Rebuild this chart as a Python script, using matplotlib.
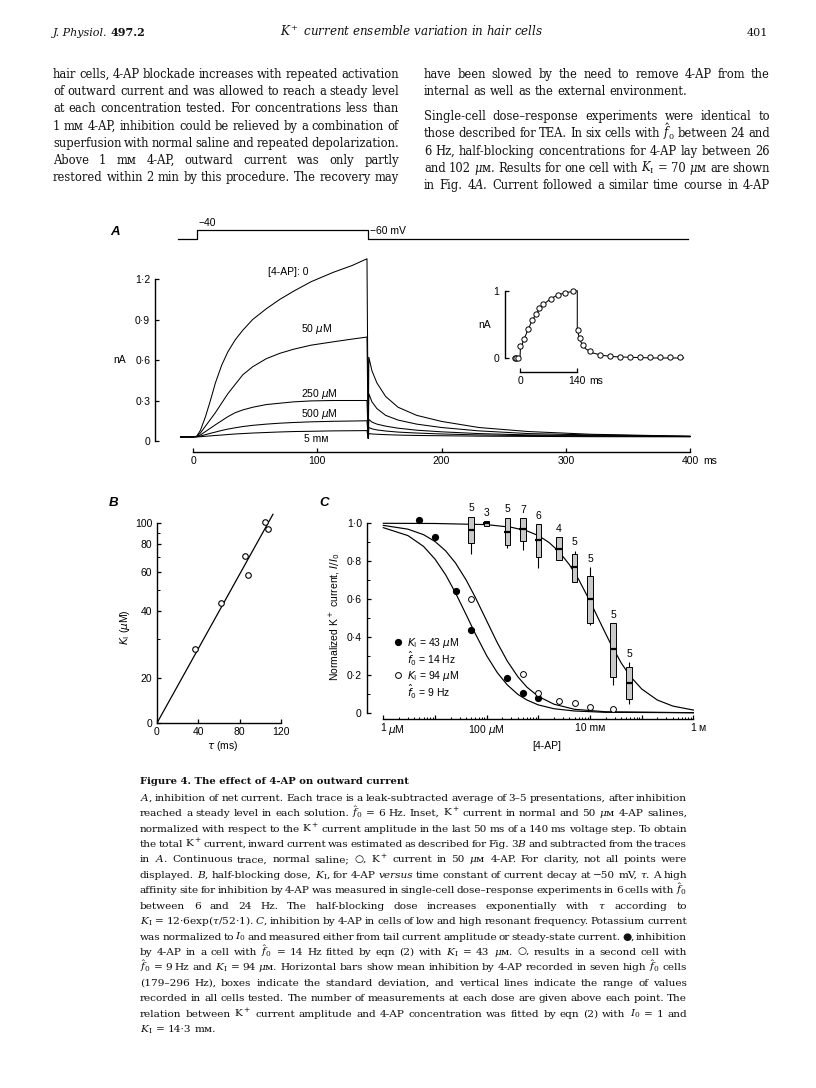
#!/usr/bin/env python
import matplotlib
matplotlib.use('Agg')
import matplotlib.pyplot as plt
from matplotlib.lines import Line2D
from matplotlib.patches import Rectangle
from matplotlib.ticker import FixedLocator, NullFormatter

# ---------------- A: K+ current (nA), step -60 -> -40 mV
a_names = ['[4-AP]: 0', r'50 $\mu$M', r'250 $\mu$M', r'500 $\mu$M', '5 mᴍ']
t_on = [-10, 0, 3, 6, 10, 14, 18, 23, 28, 34, 40, 48, 59, 70, 81, 95, 113, 128, 140]
a_on = [
    [0.03, 0.03, 0.035, 0.08, 0.18, 0.30, 0.43, 0.56, 0.66, 0.75, 0.82, 0.90, 0.98, 1.05, 1.11, 1.18, 1.25, 1.30, 1.35],
    [0.03, 0.03, 0.035, 0.06, 0.11, 0.16, 0.21, 0.28, 0.35, 0.42, 0.49, 0.55, 0.61, 0.65, 0.68, 0.71, 0.735, 0.755, 0.77],
    [0.03, 0.03, 0.033, 0.045, 0.07, 0.095, 0.12, 0.15, 0.18, 0.21, 0.23, 0.25, 0.27, 0.28, 0.29, 0.297, 0.30, 0.30, 0.30],
    [0.03, 0.03, 0.032, 0.037, 0.047, 0.057, 0.066, 0.078, 0.088, 0.098, 0.107, 0.116, 0.125, 0.132, 0.137, 0.142, 0.146, 0.148, 0.15],
    [0.03, 0.03, 0.03, 0.032, 0.035, 0.038, 0.041, 0.044, 0.048, 0.052, 0.055, 0.059, 0.063, 0.067, 0.07, 0.072, 0.075, 0.076, 0.077],
]
t_step_off, i_step_off = 141, 0.02
t_tail = [141.5, 144, 148, 155, 165, 180, 200, 230, 270, 320, 400]
a_tail = [
    [0.62, 0.52, 0.43, 0.33, 0.25, 0.19, 0.145, 0.10, 0.07, 0.05, 0.035],
    [0.35, 0.29, 0.24, 0.19, 0.155, 0.125, 0.10, 0.075, 0.055, 0.045, 0.035],
    [0.16, 0.14, 0.125, 0.11, 0.095, 0.08, 0.068, 0.055, 0.045, 0.04, 0.034],
    [0.10, 0.09, 0.082, 0.074, 0.066, 0.059, 0.052, 0.045, 0.04, 0.036, 0.033],
    [0.055, 0.052, 0.05, 0.047, 0.044, 0.041, 0.039, 0.036, 0.034, 0.032, 0.031],
]
prot_t = [-12, 3, 3, 141, 141, 398]
prot_mv = [-60, -60, -40, -40, -60, -60]
a_xticks = [0, 100, 200, 300, 400]
a_yticks = [0, 0.3, 0.6, 0.9, 1.2]
a_ylabels = ['0', '0·3', '0·6', '0·9', '1·2']

# inset: normalized current, normal saline (line) and 50 uM 4-AP (circles)
ins_t = [-17, 0, 1, 5, 10, 20, 30, 40, 50, 60, 75, 90, 110, 130, 140, 140, 142, 146, 152, 160, 175, 200, 230, 270, 330, 400]
ins_i = [0, 0, 0.15, 0.2, 0.28, 0.43, 0.56, 0.66, 0.74, 0.81, 0.88, 0.93, 0.97, 0.99, 1.0, 0.42, 0.37, 0.28, 0.2, 0.14, 0.08, 0.04, 0.02, 0.01, 0.0, 0.0]
ins_ct = [-12, -9, -6, 0, 10, 19, 29, 38, 47, 57, 75, 93, 111, 129, 142, 146, 154, 172, 196, 221, 245, 269, 293, 318, 342, 367, 391]
ins_ci = [0, 0, 0, 0.18, 0.28, 0.43, 0.56, 0.65, 0.74, 0.81, 0.87, 0.93, 0.97, 0.99, 0.41, 0.29, 0.19, 0.11, 0.05, 0.03, 0.02, 0.015, 0.01, 0.01, 0.01, 0.01, 0.01]

# ---------------- B: K_I (uM) vs tau (ms)
b_tau = [36.3, 61.8, 85.3, 87.9, 104.0, 107.2]
b_k = [27.2, 43.4, 70.7, 58.1, 101.0, 93.5]
b_fit_tau = [0, 112]
b_fit_k = [12.6, 109]

# ---------------- C: normalized K+ current vs [4-AP] (M)
c_low_conc = [5e-6, 10e-6, 25e-6, 50e-6, 250e-6, 500e-6, 1e-3]
c_low_i = [1.015, 0.93, 0.64, 0.437, 0.182, 0.102, 0.076]
c_mid_conc = [50e-6, 500e-6, 1e-3, 2.5e-3, 5e-3, 10e-3, 28e-3]
c_mid_i = [0.60, 0.204, 0.102, 0.062, 0.05, 0.032, 0.021]
box_conc = [50e-6, 100e-6, 250e-6, 500e-6, 1e-3, 2.5e-3, 5e-3, 10e-3, 28e-3, 57e-3]
box_mean = [0.965, 1.0, 0.956, 0.968, 0.912, 0.864, 0.768, 0.599, 0.335, 0.158]
box_hi = [1.035, 1.01, 1.03, 1.026, 0.996, 0.926, 0.838, 0.722, 0.472, 0.24]
box_lo = [0.894, 0.985, 0.886, 0.908, 0.824, 0.806, 0.692, 0.472, 0.187, 0.072]
rng_hi = [1.035, 1.01, 1.03, 1.026, 0.996, 0.926, 0.855, 0.768, 0.472, 0.266]
rng_lo = [0.84, 0.985, 0.868, 0.859, 0.762, 0.806, 0.692, 0.465, 0.146, 0.046]
box_n = [5, 3, 5, 7, 6, 4, 5, 5, 5, 5]
fit_conc = [1e-6, 3e-6, 6e-6, 1e-5, 1.6e-5, 2.5e-5, 4e-5, 6e-5, 1e-4, 1.6e-4, 2.5e-4, 4e-4, 6e-4, 1e-3, 2e-3, 5e-3, 2e-2, 1.0]
fit_43 = [0.977, 0.935, 0.878, 0.811, 0.729, 0.632, 0.518, 0.418, 0.301, 0.212, 0.147, 0.097, 0.067, 0.041, 0.021, 0.009, 0.002, 0.0]
fit_94 = [0.989, 0.969, 0.940, 0.904, 0.855, 0.790, 0.701, 0.610, 0.485, 0.370, 0.273, 0.190, 0.135, 0.086, 0.045, 0.018, 0.005, 0.0]
fit_hi_conc = [1e-6, 1e-5, 1e-4, 3e-4, 6e-4, 1e-3, 1.6e-3, 2.5e-3, 4e-3, 6e-3, 1e-2, 1.6e-2, 2.5e-2, 4e-2, 6e-2, 1e-1, 2e-1, 4e-1, 1.0]
fit_hi = [1.0, 0.999, 0.993, 0.979, 0.960, 0.935, 0.899, 0.851, 0.781, 0.704, 0.588, 0.472, 0.364, 0.263, 0.192, 0.125, 0.067, 0.035, 0.014]
c_leg = [r'$K_\mathrm{I}$ = 43 $\mu$M', r'$\hat{f}_0$ = 14 Hz', r'$K_\mathrm{I}$ = 94 $\mu$M', r'$\hat{f}_0$ = 9 Hz']
c_xmajor = [1e-6, 1e-5, 1e-4, 1e-3, 1e-2, 1e-1, 1.0]
c_xlabels = ['1', '', r'100 $\mu$M', '', '10 mᴍ', '', '1']

# ---------------- page text
head_left = ('J. Physiol.', '497.2')
head_mid = r'K$^+$ current ensemble variation in hair cells'
head_page = '401'
body_left = [
    "hair cells, 4-AP blockade increases with repeated activation",
    "of outward current and was allowed to reach a steady level",
    "at each concentration tested. For concentrations less than",
    "1 mᴍ 4-AP, inhibition could be relieved by a combination of",
    "superfusion with normal saline and repeated depolarization.",
    "Above 1 mᴍ 4-AP, outward current was only partly",
    "restored within 2 min by this procedure. The recovery may",
]
body_right1 = [
    "have been slowed by the need to remove 4-AP from the",
    "internal as well as the external environment.",
]
body_right2 = [
    "Single-cell dose–response experiments were identical to",
    r"those described for TEA. In six cells with $\hat{f}_0$ between 24 and",
    "6 Hz, half-blocking concentrations for 4-AP lay between 26",
    r"and 102 $\mu$ᴍ. Results for one cell with $K_\mathrm{I}$ = 70 $\mu$ᴍ are shown",
    r"in Fig. 4$A$. Current followed a similar time course in 4-AP",
]
cap_title = "Figure 4. The effect of 4-AP on outward current"
caption = [
    r"$A$, inhibition of net current. Each trace is a leak-subtracted average of 3–5 presentations, after inhibition",
    r"reached a steady level in each solution. $\hat{f}_0$ = 6 Hz. Inset, K$^+$ current in normal and 50 $\mu$ᴍ 4-AP salines,",
    r"normalized with respect to the K$^+$ current amplitude in the last 50 ms of a 140 ms voltage step. To obtain",
    r"the total K$^+$ current, inward current was estimated as described for Fig. 3$B$ and subtracted from the traces",
    r"in $A$. Continuous trace, normal saline; ○, K$^+$ current in 50 $\mu$ᴍ 4-AP. For clarity, not all points were",
    r"displayed. $B$, half-blocking dose, $K_\mathrm{I}$, for 4-AP ~versus time constant of current decay at −50 mV, $\tau$. A high",
    r"affinity site for inhibition by 4-AP was measured in single-cell dose–response experiments in 6 cells with $\hat{f}_0$",
    r"between 6 and 24 Hz. The half-blocking dose increases exponentially with $\tau$ according to",
    r"$K_\mathrm{I}$ = 12·6exp($\tau$/52·1). $C$, inhibition by 4-AP in cells of low and high resonant frequency. Potassium current",
    r"was normalized to $I_0$ and measured either from tail current amplitude or steady-state current. ●, inhibition",
    r"by 4-AP in a cell with $\hat{f}_0$ = 14 Hz fitted by eqn (2) with $K_\mathrm{I}$ = 43 $\mu$ᴍ. ○, results in a second cell with",
    r"$\hat{f}_0$ = 9 Hz and $K_\mathrm{I}$ = 94 $\mu$ᴍ. Horizontal bars show mean inhibition by 4-AP recorded in seven high $\hat{f}_0$ cells",
    r"(179–296 Hz), boxes indicate the standard deviation, and vertical lines indicate the range of values",
    r"recorded in all cells tested. The number of measurements at each dose are given above each point. The",
    r"relation between K$^+$ current amplitude and 4-AP concentration was fitted by eqn (2) with $I_0$ = 1 and",
    r"$K_\mathrm{I}$ = 14·3 mᴍ.",
]

# ---------------- style
plt.rcParams.update({
    'font.family': ['Liberation Sans', 'DejaVu Sans'], 'font.size': 7.5,
    'axes.linewidth': 1.0,
    'xtick.direction': 'in', 'ytick.direction': 'in',
    'xtick.major.size': 3, 'ytick.major.size': 3,
    'xtick.minor.size': 1.8, 'ytick.minor.size': 2.2,
    'xtick.major.width': 0.9, 'ytick.major.width': 0.9,
    'xtick.minor.width': 0.7, 'ytick.minor.width': 0.7,
    'xtick.major.pad': 3, 'ytick.major.pad': 3.5,
})
SERIF = dict(family=['DejaVu Serif', 'DejaVu Sans'], math_fontfamily='dejavuserif', color='#111111')
SPACE = 0.32  # word space, em

W, H = 816, 1088
fig = plt.figure(figsize=(W / 100, H / 100), dpi=100)
fig.patch.set_facecolor('white')
R = fig.canvas.get_renderer()


def px_axes(x0, y0, x1, y1):
    ax = fig.add_axes([x0 / W, 1 - y1 / H, (x1 - x0) / W, (y1 - y0) / H])
    ax.patch.set_alpha(0)
    for s in ('top', 'right'):
        ax.spines[s].set_visible(False)
    return ax


def px_text(x, y, s, **kw):
    return fig.text(x / W, 1 - y / H, s, **kw)


def width(t):
    return t.get_window_extent(R).width


def fit_run(s, x0, x1, yc, **kw):
    t = px_text(x0, 0, s, fontsize=10, va='baseline', **kw)
    size = 10 * (x1 - x0) / width(t)
    t.set_fontsize(size)
    t.set_y(1 - (yc + 0.26 * size * 100 / 72) / H)
    return t, size


def mean_size(lines, target, **kw):
    # font size at which a typical justified line fills the measure with plain word spaces
    t = px_text(0, 0, '', fontsize=10, **kw)
    tot = []
    for s in lines:
        words = s.split()
        w = 0
        for wd in words:
            t.set_text(wd.lstrip('~'))
            w += width(t)
        tot.append(w + (len(words) - 1) * SPACE * 10 * 100 / 72)
    t.remove()
    return 10 * target / (sum(tot) / len(tot))


def paragraph(lines, x0, x1, yc0, dy, size, ragged_last=True, **kw):
    px = size * 100 / 72
    for k, line in enumerate(lines):
        yb = yc0 + k * dy + 0.26 * px
        objs, ws = [], []
        for w in line.split():
            st = 'normal'
            if w.startswith('~'):
                w, st = w[1:], 'italic'
            o = px_text(x0, yb, w, fontsize=size, va='baseline', style=st, **kw)
            objs.append(o)
            ws.append(width(o))
        if (ragged_last and k == len(lines) - 1) or len(objs) < 2:
            gap = SPACE * px
        else:
            gap = (x1 - x0 - sum(ws)) / (len(objs) - 1)
        x = x0
        for o, w in zip(objs, ws):
            o.set_x(x / W)
            x += w + gap


def unit(ax, x, s, dx):
    ax.annotate(s, xy=(x, 0), xycoords=('data', 'axes fraction'), xytext=(dx, -3),
                textcoords='offset points', ha='left', va='top')


# ---------------- header and body text
t_j, hsize = fit_run(head_left[0], 53, 108, 33, style='italic', **SERIF)
px_text(111, 33 + 0.26 * hsize * 100 / 72, head_left[1], fontsize=hsize, weight='bold',
        va='baseline', **SERIF)
fit_run(head_mid, 280, 543, 33, style='italic', **SERIF)
px_text(768, 33 + 0.26 * hsize * 100 / 72, head_page, fontsize=hsize, ha='right',
        va='baseline', **SERIF)

just = [s for s in body_left if not s.startswith('Above')] + body_right1[:1] + body_right2
bsize = mean_size(just, 346, **SERIF)
paragraph(body_left, 53, 399, 75, 17.2, bsize, ragged_last=False, **SERIF)
paragraph(body_right1, 424, 770, 75, 17.2, bsize, **SERIF)
paragraph(body_right2, 424, 770, 117.3, 17.1, bsize, ragged_last=False, **SERIF)

# ---------------- panel A
axA = px_axes(155, 245, 700, 452)
axA.set_xlim(-30.6, 408)
axA.set_ylim(-0.0815, 1.452)
for on, tail in zip(a_on, a_tail):
    axA.plot(t_on + [t_step_off] + t_tail, on + [i_step_off] + tail, color='k', lw=0.75)
axA.spines['left'].set_bounds(0, 1.2)
axA.spines['bottom'].set_bounds(0, 400)
axA.set_xticks(a_xticks, [str(v) for v in a_xticks])
axA.set_yticks(a_yticks, a_ylabels)
unit(axA, 400, 'ms', 9.4)
axA.text(-59, 0.6, 'nA', ha='center', va='center', clip_on=False)
for name, (tx, iy) in zip(a_names, [(77, 1.252), (99.6, 0.83), (102, 0.346), (102, 0.198), (99, 0.015)]):
    axA.text(tx, iy, name, ha='center', va='center')

axV = px_axes(155, 218, 700, 245)
axV.set_xlim(axA.get_xlim())
axV.set_ylim(-73.3, -13.3)
axV.axis('off')
axV.plot(prot_t, prot_mv, color='k', lw=0.9)
axV.annotate('−40', xy=(prot_t[2], prot_mv[2]), xytext=(1, 1.5), textcoords='offset points',
             ha='left', va='bottom')
axV.annotate('−60 mV', xy=(prot_t[4], prot_mv[4]), xytext=(1.5, 2), textcoords='offset points',
             ha='left', va='bottom')

axI = px_axes(505, 285, 690, 372)
axI.set_xlim(-36.7, 415.6)
axI.set_ylim(-0.208, 1.085)
axI.plot(ins_t, ins_i, color='k', lw=0.75)
axI.plot(ins_ct, ins_ci, 'o', ms=3.8, mfc='white', mec='k', mew=0.7)
axI.spines['left'].set_bounds(0, 1)
axI.spines['bottom'].set_bounds(0, 140)
axI.set_xticks([0, 140], ['0', '140'])
axI.set_yticks([0, 1], ['0', '1'])
axI.tick_params(axis='y', pad=4)
unit(axI, 140, 'ms', 9)
axI.text(-86, 0.49, 'nA', ha='center', va='center', clip_on=False)

# ---------------- panel B
axB = px_axes(157, 505, 289.5, 723)
axB.set_yscale('log')
axB.set_xlim(0, 128)
axB.set_ylim(12.6, 120)
axB.plot(b_fit_tau, b_fit_k, color='k', lw=0.9)
axB.plot(b_tau, b_k, 'o', ms=4, mfc='white', mec='k', mew=0.8)
axB.spines['left'].set_bounds(12.6, 100)
axB.spines['bottom'].set_bounds(0, 120)
axB.set_yticks([12.6, 20, 40, 60, 80, 100], ['0', '20', '40', '60', '80', '100'])
axB.yaxis.set_minor_locator(FixedLocator([30, 50, 70, 90]))
axB.yaxis.set_minor_formatter(NullFormatter())
axB.set_xticks([0, 40, 80, 120], ['0', '40', '80', '120'])
px_text(125, 627, r'$K_\mathrm{I}$ ($\mu$M)', rotation=90, ha='center', va='center')
px_text(223, 746, r'$\tau$ (ms)', ha='center', va='center')

# ---------------- panel C
axC = px_axes(366.7, 505, 700, 719.3)
axC.set_xscale('log')
axC.set_xlim(4.77e-7, 1.34)
axC.set_ylim(-0.0348, 1.0966)
axC.plot(fit_conc, fit_43, color='k', lw=0.85)
axC.plot(fit_conc, fit_94, color='k', lw=0.85)
axC.plot(fit_hi_conc, fit_hi, color='k', lw=0.85)
wd = 10 ** 0.052
wm = 10 ** 0.068
for c, m, lo, hi, rlo, rhi, n in zip(box_conc, box_mean, box_lo, box_hi, rng_lo, rng_hi, box_n):
    axC.vlines(c, rlo, rhi, color='k', lw=0.8, zorder=2)
    axC.add_patch(Rectangle((c / wd, lo), c * wd - c / wd, hi - lo, facecolor='#c9c9c9',
                            edgecolor='k', lw=0.7, zorder=3))
    axC.hlines(m, c / wm, c * wm, color='k', lw=1.6, zorder=4)
    axC.annotate(str(n), xy=(c, rhi), xytext=(0, 2.5), textcoords='offset points',
                 ha='center', va='bottom')
axC.plot(c_low_conc, c_low_i, 'o', ms=4.2, mfc='k', mec='k', zorder=5)
axC.plot(c_mid_conc, c_mid_i, 'o', ms=4.2, mfc='white', mec='k', mew=0.7, zorder=5)
axC.spines['left'].set_bounds(0, 1)
axC.spines['bottom'].set_bounds(1e-6, 1)
axC.set_xticks(c_xmajor, c_xlabels)
axC.xaxis.set_minor_locator(FixedLocator([m * 10.0 ** e for e in range(-6, 0) for m in range(2, 10)]))
axC.xaxis.set_minor_formatter(NullFormatter())
axC.set_yticks([0, 0.2, 0.4, 0.6, 0.8, 1.0], ['0', '0·2', '0·4', '0·6', '0·8', '1·0'])
axC.yaxis.set_minor_locator(FixedLocator([0.1, 0.3, 0.5, 0.7, 0.9]))
axC.yaxis.set_minor_formatter(NullFormatter())
unit(axC, 1e-6, r'$\mu$M', 3.2)
unit(axC, 1.0, 'ᴍ', 3.2)
hnd = [Line2D([], [], ls='none', marker='o', ms=4.2, mfc='k', mec='k'),
       Line2D([], [], ls='none'),
       Line2D([], [], ls='none', marker='o', ms=4.2, mfc='white', mec='k', mew=0.7),
       Line2D([], [], ls='none')]
axC.legend(hnd, c_leg, loc='upper left', bbox_to_anchor=(0.077, 0.39), frameon=False,
           handlelength=1.0, handletextpad=0.4, labelspacing=0.05, borderpad=0, borderaxespad=0)
px_text(335, 617, r'Normalized K$^+$ current, $I/I_0$', rotation=90, ha='center', va='center')
px_text(547, 746, '[4-AP]', ha='center', va='center')

for s, x, y in (('A', 115, 232), ('B', 114, 503), ('C', 324, 503)):
    px_text(x, y, s, style='italic', weight='bold', fontsize=9.5, ha='center', va='center')

# ---------------- legend text
fit_run(cap_title, 140, 407, 781, weight='bold', **SERIF)
csize = mean_size(caption[:-1], 547, **SERIF)
paragraph(caption, 140, 687, 798, 15.43, csize, **SERIF)

fig.savefig('out.png', dpi=100)
